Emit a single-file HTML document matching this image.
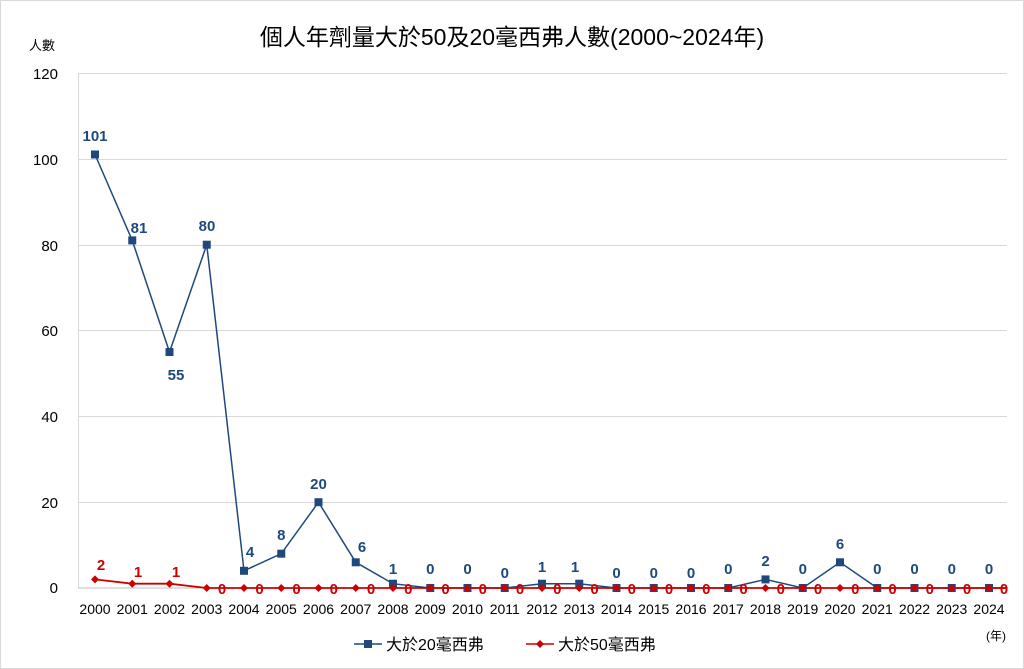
<!DOCTYPE html>
<html><head><meta charset="utf-8"><style>
body{margin:0;background:#fff}
svg{display:block;font-family:"Liberation Sans","Noto Sans CJK TC",sans-serif}
</style></head><body>
<svg width="1024" height="669" viewBox="0 0 1024 669">
<rect x="0.5" y="0.5" width="1023" height="668" fill="#fff" stroke="#d9d9d9"/>
<text x="512" y="45" font-size="23" text-anchor="middle" fill="#000">個人年劑量大於50及20毫西弗人數(2000~2024年)</text>
<text x="42" y="50" font-size="13" text-anchor="middle">人數</text>
<g stroke="#d9d9d9" stroke-width="1">
<line x1="78" y1="73.5" x2="1007" y2="73.5"/><line x1="78" y1="159.5" x2="1007" y2="159.5"/><line x1="78" y1="245.5" x2="1007" y2="245.5"/><line x1="78" y1="330.5" x2="1007" y2="330.5"/><line x1="78" y1="416.5" x2="1007" y2="416.5"/><line x1="78" y1="502.5" x2="1007" y2="502.5"/><line x1="78.5" y1="73" x2="78.5" y2="588"/>
</g>
<line x1="78" y1="588" x2="1007" y2="588" stroke="#bfbfbf"/>
<g font-size="15" text-anchor="end" fill="#000">
<text x="58" y="79">120</text><text x="58" y="165">100</text><text x="58" y="251">80</text><text x="58" y="336">60</text><text x="58" y="422">40</text><text x="58" y="508">20</text><text x="58" y="593">0</text>
</g>
<g font-size="14" text-anchor="middle" fill="#000">
<text x="95" y="614">2000</text><text x="132.25" y="614">2001</text><text x="169.5" y="614">2002</text><text x="206.75" y="614">2003</text><text x="244" y="614">2004</text><text x="281.25" y="614">2005</text><text x="318.5" y="614">2006</text><text x="355.75" y="614">2007</text><text x="393" y="614">2008</text><text x="430.25" y="614">2009</text><text x="467.5" y="614">2010</text><text x="504.75" y="614">2011</text><text x="542" y="614">2012</text><text x="579.25" y="614">2013</text><text x="616.5" y="614">2014</text><text x="653.75" y="614">2015</text><text x="691" y="614">2016</text><text x="728.25" y="614">2017</text><text x="765.5" y="614">2018</text><text x="802.75" y="614">2019</text><text x="840" y="614">2020</text><text x="877.25" y="614">2021</text><text x="914.5" y="614">2022</text><text x="951.75" y="614">2023</text><text x="989" y="614">2024</text>
</g>
<text x="996" y="640" font-size="12" text-anchor="middle">(年)</text>
<polyline fill="none" stroke="#1f497d" stroke-width="1.5" points="95,154.5 132.25,240.4 169.5,352 206.75,244.7 244,570.8 281.25,553.7 318.5,502.2 355.75,562.3 393,583.7 430.25,588 467.5,588 504.75,588 542,583.7 579.25,583.7 616.5,588 653.75,588 691,588 728.25,588 765.5,579.4 802.75,588 840,562.3 877.25,588 914.5,588 951.75,588 989,588 1007,588"/>
<g fill="#1f497d">
<rect x="91" y="150.5" width="8" height="8"/><rect x="128.25" y="236.4" width="8" height="8"/><rect x="165.5" y="348" width="8" height="8"/><rect x="202.75" y="240.7" width="8" height="8"/><rect x="240" y="566.8" width="8" height="8"/><rect x="277.25" y="549.7" width="8" height="8"/><rect x="314.5" y="498.2" width="8" height="8"/><rect x="351.75" y="558.3" width="8" height="8"/><rect x="389" y="579.7" width="8" height="8"/><rect x="426.25" y="584" width="8" height="8"/><rect x="463.5" y="584" width="8" height="8"/><rect x="500.75" y="584" width="8" height="8"/><rect x="538" y="579.7" width="8" height="8"/><rect x="575.25" y="579.7" width="8" height="8"/><rect x="612.5" y="584" width="8" height="8"/><rect x="649.75" y="584" width="8" height="8"/><rect x="687" y="584" width="8" height="8"/><rect x="724.25" y="584" width="8" height="8"/><rect x="761.5" y="575.4" width="8" height="8"/><rect x="798.75" y="584" width="8" height="8"/><rect x="836" y="558.3" width="8" height="8"/><rect x="873.25" y="584" width="8" height="8"/><rect x="910.5" y="584" width="8" height="8"/><rect x="947.75" y="584" width="8" height="8"/><rect x="985" y="584" width="8" height="8"/>
</g>
<polyline fill="none" stroke="#cc0000" stroke-width="1.8" points="95,579.4 132.25,583.7 169.5,583.7 206.75,588 1007,588"/>
<g fill="#cc0000">
<path d="M95 575.4l4 4-4 4-4-4z"/><path d="M132.25 579.7l4 4-4 4-4-4z"/><path d="M169.5 579.7l4 4-4 4-4-4z"/>
<path d="M206.75 584l4 4-4 4-4-4z"/><path d="M244 584l4 4-4 4-4-4z"/><path d="M281.25 584l4 4-4 4-4-4z"/><path d="M318.5 584l4 4-4 4-4-4z"/><path d="M355.75 584l4 4-4 4-4-4z"/><path d="M393 584l4 4-4 4-4-4z"/><path d="M430.25 584l4 4-4 4-4-4z"/><path d="M467.5 584l4 4-4 4-4-4z"/><path d="M504.75 584l4 4-4 4-4-4z"/><path d="M542 584l4 4-4 4-4-4z"/><path d="M579.25 584l4 4-4 4-4-4z"/><path d="M616.5 584l4 4-4 4-4-4z"/><path d="M653.75 584l4 4-4 4-4-4z"/><path d="M691 584l4 4-4 4-4-4z"/><path d="M728.25 584l4 4-4 4-4-4z"/><path d="M765.5 584l4 4-4 4-4-4z"/><path d="M802.75 584l4 4-4 4-4-4z"/><path d="M840 584l4 4-4 4-4-4z"/><path d="M877.25 584l4 4-4 4-4-4z"/><path d="M914.5 584l4 4-4 4-4-4z"/><path d="M951.75 584l4 4-4 4-4-4z"/><path d="M989 584l4 4-4 4-4-4z"/>
</g>
<g font-size="15" font-weight="bold" fill="#1f497d" text-anchor="middle">
<text x="95" y="141">101</text><text x="139" y="233">81</text><text x="176" y="380">55</text><text x="207" y="231">80</text><text x="250" y="557">4</text><text x="281.25" y="540">8</text><text x="318.5" y="489">20</text><text x="362" y="552">6</text><text x="393" y="574">1</text><text x="430.25" y="574">0</text><text x="467.5" y="574">0</text><text x="504.75" y="578">0</text><text x="542" y="572">1</text><text x="575" y="572">1</text><text x="616.5" y="578">0</text><text x="653.75" y="578">0</text><text x="691" y="578">0</text><text x="728.25" y="574">0</text><text x="765.5" y="566">2</text><text x="802.75" y="574">0</text><text x="840" y="549">6</text><text x="877.25" y="574">0</text><text x="914.5" y="574">0</text><text x="951.75" y="574">0</text><text x="989" y="574">0</text>
</g>
<g font-size="15" font-weight="bold" fill="#cc0000" text-anchor="middle">
<text x="101" y="570">2</text><text x="138" y="577">1</text><text x="176" y="577">1</text>
<text x="222" y="594">0</text><text x="259.5" y="594">0</text><text x="296.5" y="594">0</text><text x="333.75" y="594">0</text><text x="371" y="594">0</text><text x="408.25" y="594">0</text><text x="445.5" y="594">0</text><text x="482.75" y="594">0</text><text x="520" y="594">0</text><text x="557.25" y="594">0</text><text x="594.5" y="594">0</text><text x="631.75" y="594">0</text><text x="669" y="594">0</text><text x="706.25" y="594">0</text><text x="743.5" y="594">0</text><text x="780.75" y="594">0</text><text x="818" y="594">0</text><text x="855.25" y="594">0</text><text x="892.5" y="594">0</text><text x="929.75" y="594">0</text><text x="967" y="594">0</text><text x="1004" y="594">0</text>
</g>
<line x1="354" y1="644" x2="382" y2="644" stroke="#1f497d" stroke-width="1.5"/><rect x="364" y="640" width="8" height="8" fill="#1f497d"/>
<text x="386" y="650" font-size="16">大於20毫西弗</text>
<line x1="526" y1="644" x2="554" y2="644" stroke="#cc0000" stroke-width="1.5"/><path d="M540 640l4 4-4 4-4-4z" fill="#cc0000"/>
<text x="558" y="650" font-size="16">大於50毫西弗</text>
</svg>
</body></html>
